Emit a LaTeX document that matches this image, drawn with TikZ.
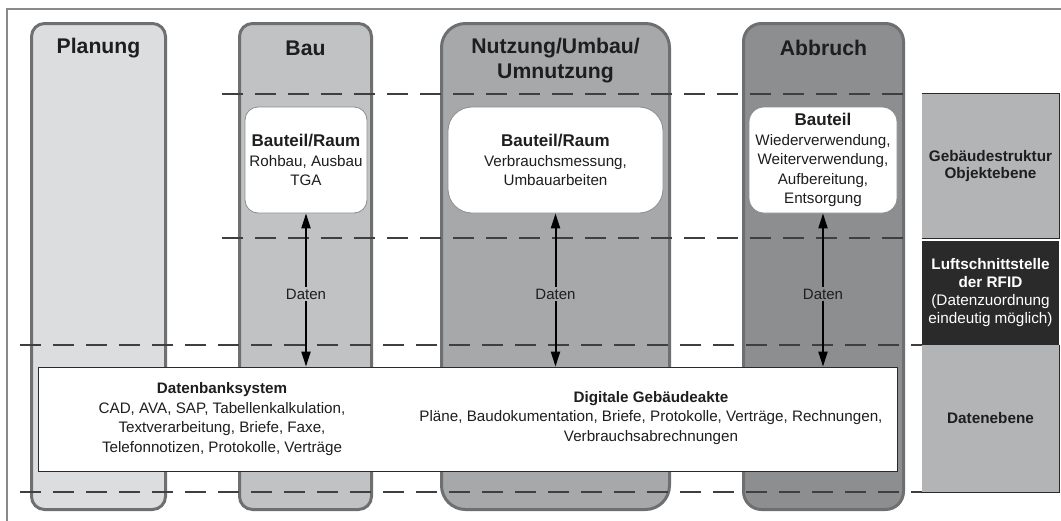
\documentclass[tikz,border=0pt]{standalone}
\usepackage{fontspec}
\setmainfont{Liberation Sans}
\usetikzlibrary{arrows.meta}
\definecolor{cPlan}{HTML}{DCDDDF}
\definecolor{cBau}{HTML}{C1C2C4}
\definecolor{cNutz}{HTML}{A7A8AA}
\definecolor{cAbb}{HTML}{8D8E90}
\definecolor{cSide}{HTML}{B3B4B6}
\definecolor{cDark}{HTML}{2A2A2A}
\definecolor{cBorder}{HTML}{6E6F71}
\definecolor{cText}{HTML}{1E1E1E}
\definecolor{cFrame}{HTML}{8A8A8A}
\newcommand\myTitle{\fontsize{21.2}{25}\selectfont\bfseries}
\newcommand\myHead{\fontsize{17}{20}\selectfont\bfseries}
\newcommand\myBody{\fontsize{15.2}{19.5}\selectfont}
\newcommand\mySide{\fontsize{15.3}{17.8}\selectfont}
\begin{document}
\begin{tikzpicture}[x=1pt,y=-1pt,
  col/.style={draw=cBorder, line width=3pt, inner sep=0pt},
  wbox/.style={draw=cBorder!80, line width=0.8pt, fill=white, inner sep=0pt, align=center, text=cText, font=\myBody},
  sidebox/.style={fill=cSide, inner sep=0pt, minimum width=137pt, align=center, text=cText, font=\mySide},
  sideedge/.style={draw=cDark, line width=0.9pt},
  ttl/.style={align=center, text=cText, font=\myTitle},
  dashline/.style={draw=cDark!90, line width=1.4pt, dash pattern=on 21pt off 12pt},
  dblarrow/.style={draw=black, line width=2pt, {Triangle[length=15pt,width=9pt]}-{Triangle[length=15pt,width=9pt]}},
  datlbl/.style={font=\fontsize{15}{18}\selectfont, text=cText, inner sep=2pt}
]
\useasboundingbox (0,0) rectangle (1061,520);
\fill[white] (0,0) rectangle (1061,520);
\draw[cFrame, line width=1.3pt] (1070,9) -- (7,9) -- (7,530);

% columns
\node[col, fill=cPlan, rounded corners=13pt, minimum width=134pt, minimum height=486pt] (planung) at (98.5,266.5) {};
\node[col, fill=cBau, rounded corners=13pt, minimum width=132pt, minimum height=486pt] (bau) at (305.5,266.5) {};
\node[col, fill=cNutz, rounded corners=24pt, minimum width=228pt, minimum height=486pt] (nutz) at (555.5,266.5) {};
\node[col, fill=cAbb, rounded corners=18pt, minimum width=160pt, minimum height=486pt] (abb) at (823.5,266.5) {};

% titles
\node[ttl] (tplan) at (98.5,48) {Planung};
\node[ttl] (tbau) at (305.5,48) {Bau};
\node[ttl] (tnutz) at (555.5,60.5) {Nutzung/Umbau/\\Umnutzung};
\node[ttl] (tabb) at (823.5,48) {Abbruch};

% dashed lines
\coordinate (d1a) at (222,94);  \coordinate (d1b) at (908,94);
\coordinate (d2a) at (222,238); \coordinate (d2b) at (908,238);
\coordinate (d3a) at (20,345);  \coordinate (d3b) at (922,345);
\coordinate (d4a) at (20,492);  \coordinate (d4b) at (922,492);
\draw[dashline] (d1a) -- (d1b);
\draw[dashline] (d2a) -- (d2b);
\draw[dashline] (d3a) -- (d3b);
\draw[dashline] (d4a) -- (d4b);

% side boxes
\node[sidebox, minimum height=144pt] (geb) at (990.5,166) {\bfseries Gebäudestruktur\\\bfseries Objektebene};
\node[sidebox, fill=cDark, text=white, minimum height=104pt] (luft) at (990.5,292.5) {\bfseries Luftschnittstelle\\\bfseries der RFID\\(Datenzuordnung\\eindeutig möglich)};
\node[sidebox, minimum height=147pt] (datebene) at (990.5,418.5) {\bfseries Datenebene};
\draw[sideedge] (geb.north west) -- (geb.north east) -- (geb.south east) -- (geb.south west);
\draw[sideedge] (datebene.north east) -- (datebene.south east) -- (datebene.south west);

% white boxes
\node[wbox, rounded corners=13pt, minimum width=122pt, minimum height=106pt] (baubox) at (306,160) {{\myHead Bauteil/Raum}\\Rohbau, Ausbau\\TGA};
\node[wbox, rounded corners=24pt, minimum width=215pt, minimum height=106pt] (nutzbox) at (555.5,160) {{\myHead Bauteil/Raum}\\Verbrauchsmessung,\\Umbauarbeiten};
\node[wbox, rounded corners=15pt, minimum width=148pt, minimum height=106pt] (abbbox) at (823,160) {{\myHead Bauteil}\\Wiederverwendung,\\Weiterverwendung,\\Aufbereitung,\\Entsorgung};

% database rectangle
\node[draw=cDark, line width=0.8pt, fill=white, minimum width=859pt, minimum height=104pt, inner sep=0pt] (db) at (467.5,419) {};
\node[align=center, text=cText, font=\myBody] (dbs) at (222,419) {\bfseries Datenbanksystem\\CAD, AVA, SAP, Tabellenkalkulation,\\Textverarbeitung, Briefe, Faxe,\\Telefonnotizen, Protokolle, Verträge};
\node[align=center, text=cText, font=\myBody] (dga) at (651,418) {\bfseries Digitale Gebäudeakte\\Pläne, Baudokumentation, Briefe, Protokolle, Verträge, Rechnungen,\\Verbrauchsabrechnungen};

% arrows
\draw[dblarrow] (baubox.south) -- (baubox.south |- db.north);
\draw[dblarrow] (nutzbox.south) -- (nutzbox.south |- db.north);
\draw[dblarrow] (abbbox.south) -- (abbbox.south |- db.north);
\node[datlbl, fill=cBau] (dat1) at (306,294) {Daten};
\node[datlbl, fill=cNutz] (dat2) at (555.5,294) {Daten};
\node[datlbl, fill=cAbb] (dat3) at (823,294) {Daten};
\end{tikzpicture}
\end{document}
